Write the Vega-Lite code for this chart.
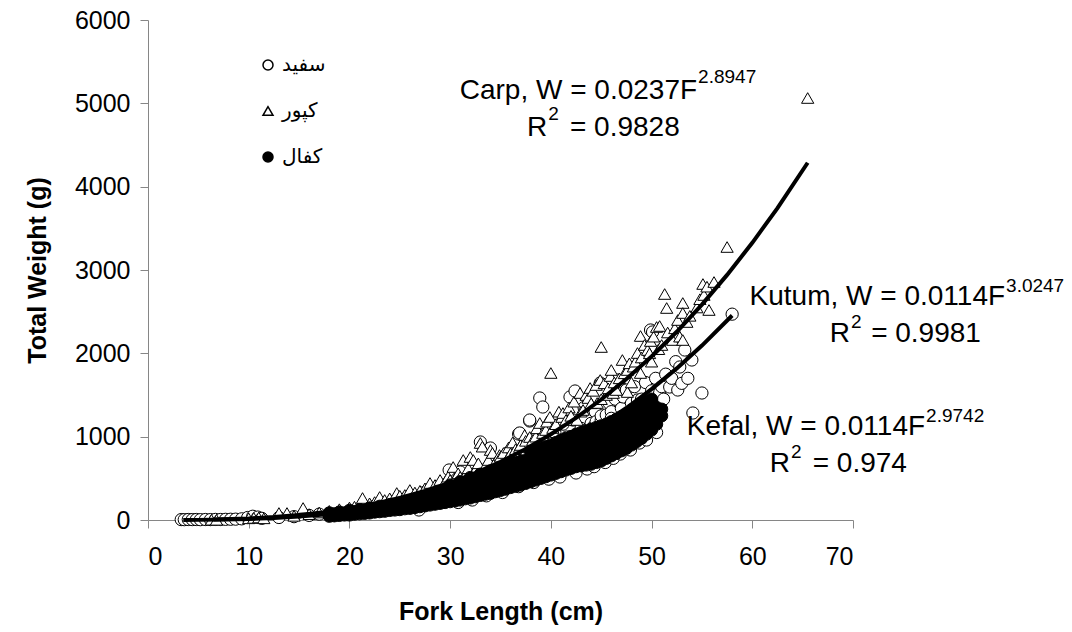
{
  "$schema": "https://vega.github.io/schema/vega-lite/v6.json",
  "width": 705,
  "height": 500,
  "autosize": "none",
  "padding": {"left": 148, "top": 20, "right": 219, "bottom": 112},
  "background": "white",
  "config": {
    "view": {"stroke": null},
    "font": "Liberation Sans",
    "axis": {
      "grid": false,
      "domainColor": "#868686",
      "tickColor": "#868686",
      "tickSize": 8,
      "labelColor": "black",
      "labelFont": "Liberation Sans",
      "labelFontSize": 25,
      "titleFont": "Liberation Sans",
      "titleFontSize": 25,
      "titleFontWeight": "bold",
      "titleColor": "black"
    }
  },
  "datasets": {
    "pts": [
      {"s":"سفید","f":3.3,"w":5},{"s":"سفید","f":3.6,"w":4},{"s":"سفید","f":4.0,"w":6},{"s":"سفید","f":4.4,"w":5},{"s":"سفید","f":4.8,"w":6},{"s":"سفید","f":5.2,"w":4},{"s":"سفید","f":5.7,"w":6},{"s":"سفید","f":6.2,"w":5},{"s":"سفید","f":6.7,"w":7},{"s":"سفید","f":7.2,"w":6},{"s":"سفید","f":7.7,"w":8},{"s":"سفید","f":8.2,"w":9},{"s":"سفید","f":8.7,"w":10},{"s":"سفید","f":9.3,"w":14},{"s":"سفید","f":9.9,"w":30},{"s":"سفید","f":10.4,"w":45},{"s":"سفید","f":10.9,"w":35},{"s":"سفید","f":11.3,"w":20},
      {"s":"سفید","f":13,"w":30},{"s":"سفید","f":14.5,"w":40},{"s":"سفید","f":16,"w":55},{"s":"سفید","f":17,"w":70},{"s":"سفید","f":18,"w":75},{"s":"سفید","f":19,"w":90},{"s":"سفید","f":20,"w":100},{"s":"سفید","f":20.5,"w":95},{"s":"سفید","f":21,"w":110},{"s":"سفید","f":21.4,"w":140},{"s":"سفید","f":21.5,"w":115},{"s":"سفید","f":22,"w":130},{"s":"سفید","f":22.4,"w":160},{"s":"سفید","f":22.5,"w":135},{"s":"سفید","f":23,"w":150},{"s":"سفید","f":23.4,"w":190},{"s":"سفید","f":23.5,"w":160},{"s":"سفید","f":24,"w":170},{"s":"سفید","f":24.4,"w":220},{"s":"سفید","f":24.5,"w":185},{"s":"سفید","f":25,"w":190},{"s":"سفید","f":25.4,"w":250},{"s":"سفید","f":25.5,"w":200},{"s":"سفید","f":26,"w":215},{"s":"سفید","f":26.4,"w":290},{"s":"سفید","f":26.5,"w":230},{"s":"سفید","f":26.9,"w":120},{"s":"سفید","f":27,"w":240},{"s":"سفید","f":27.4,"w":330},{"s":"سفید","f":27.5,"w":250},{"s":"سفید","f":28,"w":270},{"s":"سفید","f":28.4,"w":380},{"s":"سفید","f":28.5,"w":280},{"s":"سفید","f":29,"w":300},{"s":"سفید","f":29.4,"w":420},{"s":"سفید","f":29.5,"w":320},{"s":"سفید","f":29.9,"w":600},
      {"s":"سفید","f":30,"w":330},{"s":"سفید","f":30.3,"w":380},{"s":"سفید","f":30.5,"w":350},{"s":"سفید","f":30.6,"w":450},{"s":"سفید","f":30.8,"w":210},{"s":"سفید","f":31,"w":370},{"s":"سفید","f":31,"w":576},{"s":"سفید","f":31.4,"w":490},{"s":"سفید","f":31.5,"w":400},{"s":"سفید","f":32,"w":380},{"s":"سفید","f":32,"w":430},{"s":"سفید","f":32.2,"w":240},{"s":"سفید","f":32.4,"w":540},{"s":"سفید","f":32.5,"w":450},{"s":"سفید","f":33,"w":420},{"s":"سفید","f":33,"w":936},{"s":"سفید","f":33.2,"w":480},{"s":"سفید","f":33.4,"w":600},{"s":"سفید","f":33.5,"w":470},{"s":"سفید","f":33.6,"w":290},{"s":"سفید","f":34,"w":500},{"s":"سفید","f":34,"w":864},{"s":"سفید","f":34.3,"w":640},{"s":"سفید","f":34.5,"w":520},{"s":"سفید","f":34.5,"w":450},{"s":"سفید","f":35,"w":540},{"s":"سفید","f":35,"w":600},{"s":"سفید","f":35.2,"w":330},{"s":"سفید","f":35.3,"w":700},{"s":"سفید","f":35.5,"w":560},{"s":"سفید","f":35.7,"w":804},{"s":"سفید","f":36,"w":580},{"s":"سفید","f":36,"w":640},{"s":"سفید","f":36.3,"w":760},{"s":"سفید","f":36.5,"w":620},{"s":"سفید","f":36.8,"w":1032},{"s":"سفید","f":36.8,"w":400},{"s":"سفید","f":36.9,"w":1044},{"s":"سفید","f":37,"w":650},{"s":"سفید","f":37,"w":700},{"s":"سفید","f":37.3,"w":840},{"s":"سفید","f":37.5,"w":680},{"s":"سفید","f":37.9,"w":1188},{"s":"سفید","f":37.9,"w":1200},{"s":"سفید","f":38,"w":720},{"s":"سفید","f":38,"w":760},{"s":"سفید","f":38.3,"w":900},{"s":"سفید","f":38.3,"w":450},{"s":"سفید","f":38.5,"w":740},{"s":"سفید","f":38.9,"w":1464},{"s":"سفید","f":38.9,"w":960},{"s":"سفید","f":39.2,"w":1356},{"s":"سفید","f":39,"w":780},{"s":"سفید","f":39,"w":820},{"s":"سفید","f":39.4,"w":1000},{"s":"سفید","f":39.5,"w":800},{"s":"سفید","f":39.8,"w":490},{"s":"سفید","f":40,"w":830},{"s":"سفید","f":40,"w":870},{"s":"سفید","f":40,"w":760},{"s":"سفید","f":40.2,"w":924},{"s":"سفید","f":40.4,"w":1050},{"s":"سفید","f":40.5,"w":880},{"s":"سفید","f":40.9,"w":516},{"s":"سفید","f":41,"w":900},{"s":"سفید","f":41,"w":950},{"s":"سفید","f":41.2,"w":1150},{"s":"سفید","f":41.5,"w":930},{"s":"سفید","f":41.6,"w":996},{"s":"سفید","f":41.9,"w":1476},{"s":"سفید","f":42,"w":960},{"s":"سفید","f":42,"w":1000},{"s":"سفید","f":42.2,"w":1200},{"s":"سفید","f":42.4,"w":1548},{"s":"سفید","f":42.5,"w":564},{"s":"سفید","f":42.5,"w":1020},{"s":"سفید","f":42.9,"w":1044},{"s":"سفید","f":43,"w":1050},{"s":"سفید","f":43,"w":1100},{"s":"سفید","f":43.3,"w":1350},{"s":"سفید","f":43.5,"w":1080},{"s":"سفید","f":43.6,"w":612},{"s":"سفید","f":44,"w":1120},{"s":"سفید","f":44,"w":1160},{"s":"سفید","f":44.2,"w":1116},{"s":"سفید","f":44.3,"w":640},{"s":"سفید","f":44.4,"w":1300},{"s":"سفید","f":44.5,"w":1180},{"s":"سفید","f":44.9,"w":1644},{"s":"سفید","f":45,"w":1200},{"s":"سفید","f":45,"w":1250},{"s":"سفید","f":45,"w":1100},{"s":"سفید","f":45.4,"w":690},{"s":"سفید","f":45.6,"w":1164},{"s":"سفید","f":45.5,"w":1260},{"s":"سفید","f":45.8,"w":1400},{"s":"سفید","f":46,"w":1300},{"s":"سفید","f":46,"w":1220},{"s":"سفید","f":46.2,"w":740},{"s":"سفید","f":46.4,"w":1450},{"s":"سفید","f":46.6,"w":1680},{"s":"سفید","f":46.9,"w":792},{"s":"سفید","f":47,"w":1340},{"s":"سفید","f":47.2,"w":1476},{"s":"سفید","f":47.5,"w":1560},{"s":"سفید","f":47.6,"w":1200},{"s":"سفید","f":47.9,"w":840},{"s":"سفید","f":48,"w":1400},{"s":"سفید","f":48,"w":1320},{"s":"سفید","f":48.3,"w":1600},{"s":"سفید","f":48.6,"w":1440},{"s":"سفید","f":48.8,"w":924},{"s":"سفید","f":48.9,"w":1356},{"s":"سفید","f":49,"w":1450},{"s":"سفید","f":49.2,"w":1404},{"s":"سفید","f":49.4,"w":1650},{"s":"سفید","f":49.5,"w":960},{"s":"سفید","f":49.6,"w":1236},{"s":"سفید","f":49.9,"w":2280},{"s":"سفید","f":49.9,"w":1476},{"s":"سفید","f":50.1,"w":2256},{"s":"سفید","f":50,"w":1550},{"s":"سفید","f":50.4,"w":1700},{"s":"سفید","f":50.5,"w":1050},{"s":"سفید","f":50.8,"w":1524},{"s":"سفید","f":50.8,"w":1344},{"s":"سفید","f":51,"w":1600},{"s":"سفید","f":51.2,"w":1450},{"s":"سفید","f":51.4,"w":1750},{"s":"سفید","f":51.8,"w":1596},{"s":"سفید","f":52,"w":1700},{"s":"سفید","f":52.4,"w":1900},{"s":"سفید","f":52.6,"w":1560},{"s":"سفید","f":52.8,"w":1836},{"s":"سفید","f":53,"w":1640},{"s":"سفید","f":53.3,"w":2040},{"s":"سفید","f":53.6,"w":1700},{"s":"سفید","f":54,"w":1920},{"s":"سفید","f":54.1,"w":1284},{"s":"سفید","f":55,"w":1524},{"s":"سفید","f":58,"w":2470},
      {"s":"کپور","f":6.3,"w":3},{"s":"کپور","f":6.8,"w":2},{"s":"کپور","f":10,"w":20},{"s":"کپور","f":10.5,"w":25},{"s":"کپور","f":11,"w":30},{"s":"کپور","f":11.5,"w":20},{"s":"کپور","f":13,"w":84},{"s":"کپور","f":13.8,"w":84},{"s":"کپور","f":14.5,"w":50},{"s":"کپور","f":15.4,"w":144},{"s":"کپور","f":16,"w":70},{"s":"کپور","f":17,"w":90},{"s":"کپور","f":18,"w":110},{"s":"کپور","f":19,"w":130},{"s":"کپور","f":20,"w":150},{"s":"کپور","f":20.5,"w":160},{"s":"کپور","f":21,"w":180},{"s":"کپور","f":21.3,"w":264},{"s":"کپور","f":22,"w":200},{"s":"کپور","f":22.5,"w":215},{"s":"کپور","f":23,"w":276},{"s":"کپور","f":23.5,"w":240},{"s":"کپور","f":24,"w":260},{"s":"کپور","f":24.7,"w":324},{"s":"کپور","f":25,"w":290},{"s":"کپور","f":25.5,"w":300},{"s":"کپور","f":26,"w":360},{"s":"کپور","f":26.5,"w":330},{"s":"کپور","f":27,"w":350},{"s":"کپور","f":27.5,"w":380},{"s":"کپور","f":28,"w":444},{"s":"کپور","f":28.5,"w":420},{"s":"کپور","f":29,"w":480},{"s":"کپور","f":29.5,"w":460},{"s":"کپور","f":29.8,"w":520},{"s":"کپور","f":30,"w":480},{"s":"کپور","f":30.3,"w":636},{"s":"کپور","f":30.5,"w":500},{"s":"کپور","f":30.8,"w":560},{"s":"کپور","f":31,"w":516},{"s":"کپور","f":31.3,"w":720},{"s":"کپور","f":31.5,"w":540},{"s":"کپور","f":31.8,"w":620},{"s":"کپور","f":32,"w":756},{"s":"کپور","f":32.3,"w":720},{"s":"کپور","f":32.3,"w":564},{"s":"کپور","f":32.5,"w":600},{"s":"کپور","f":32.8,"w":680},{"s":"کپور","f":33,"w":924},{"s":"کپور","f":33.2,"w":880},{"s":"کپور","f":33.5,"w":650},{"s":"کپور","f":33.8,"w":720},{"s":"کپور","f":34,"w":840},{"s":"کپور","f":34.2,"w":804},{"s":"کپور","f":34.5,"w":700},{"s":"کپور","f":34.7,"w":636},{"s":"کپور","f":34.9,"w":780},{"s":"کپور","f":35,"w":760},{"s":"کپور","f":35.3,"w":804},{"s":"کپور","f":35.6,"w":720},{"s":"کپور","f":35.8,"w":870},{"s":"کپور","f":36,"w":800},{"s":"کپور","f":36.2,"w":930},{"s":"کپور","f":36.5,"w":850},{"s":"کپور","f":36.6,"w":756},{"s":"کپور","f":36.9,"w":876},{"s":"کپور","f":37,"w":900},{"s":"کپور","f":37.4,"w":1020},{"s":"کپور","f":37.5,"w":950},{"s":"کپور","f":37.9,"w":996},{"s":"کپور","f":37.9,"w":804},{"s":"کپور","f":38.2,"w":960},{"s":"کپور","f":38.5,"w":1000},{"s":"کپور","f":38.6,"w":1100},{"s":"کپور","f":38.9,"w":1164},{"s":"کپور","f":39.2,"w":1044},{"s":"کپور","f":39.5,"w":1080},{"s":"کپور","f":39.6,"w":1180},{"s":"کپور","f":39.9,"w":1236},{"s":"کپور","f":40,"w":1764},{"s":"کپور","f":40.2,"w":1104},{"s":"کپور","f":40.5,"w":1150},{"s":"کپور","f":40.8,"w":1300},{"s":"کپور","f":41.1,"w":1236},{"s":"کپور","f":41.2,"w":1284},{"s":"کپور","f":41.5,"w":1200},{"s":"کپور","f":41.8,"w":1350},{"s":"کپور","f":42,"w":1250},{"s":"کپور","f":42.3,"w":1420},{"s":"کپور","f":42.6,"w":1200},{"s":"کپور","f":42.9,"w":1524},{"s":"کپور","f":43,"w":1300},{"s":"کپور","f":43.2,"w":1320},{"s":"کپور","f":43.5,"w":1500},{"s":"کپور","f":43.7,"w":1464},{"s":"کپور","f":43.9,"w":1584},{"s":"کپور","f":44,"w":1400},{"s":"کپور","f":44.2,"w":1550},{"s":"کپور","f":44.5,"w":1620},{"s":"کپور","f":44.6,"w":1404},{"s":"کپور","f":44.9,"w":1680},{"s":"کپور","f":45,"w":2076},{"s":"کپور","f":45,"w":1450},{"s":"کپور","f":45.3,"w":1640},{"s":"کپور","f":45.5,"w":1500},{"s":"کپور","f":45.7,"w":1580},{"s":"کپور","f":45.9,"w":1728},{"s":"کپور","f":46,"w":1800},{"s":"کپور","f":46.2,"w":1524},{"s":"کپور","f":46.3,"w":1650},{"s":"کپور","f":46.5,"w":1560},{"s":"کپور","f":46.8,"w":1700},{"s":"کپور","f":47.1,"w":1920},{"s":"کپور","f":47.3,"w":1760},{"s":"کپور","f":47.6,"w":1800},{"s":"کپور","f":47.6,"w":1536},{"s":"کپور","f":47.8,"w":1880},{"s":"کپور","f":48,"w":1650},{"s":"کپور","f":48.2,"w":1840},{"s":"کپور","f":48.4,"w":1900},{"s":"کپور","f":48.6,"w":2004},{"s":"کپور","f":48.9,"w":2208},{"s":"کپور","f":48.9,"w":1764},{"s":"کپور","f":49,"w":1950},{"s":"کپور","f":49.3,"w":2100},{"s":"کپور","f":49.6,"w":2040},{"s":"کپور","f":49.8,"w":2000},{"s":"کپور","f":49.9,"w":2148},{"s":"کپور","f":50,"w":1900},{"s":"کپور","f":50.2,"w":2200},{"s":"کپور","f":50.5,"w":2316},{"s":"کپور","f":50.7,"w":2050},{"s":"کپور","f":50.8,"w":2328},{"s":"کپور","f":51,"w":2100},{"s":"کپور","f":51.3,"w":2712},{"s":"کپور","f":51.5,"w":2544},{"s":"کپور","f":51.6,"w":2250},{"s":"کپور","f":52.1,"w":2160},{"s":"کپور","f":52.3,"w":2300},{"s":"کپور","f":52.6,"w":2400},{"s":"کپور","f":52.8,"w":2200},{"s":"کپور","f":53.1,"w":2604},{"s":"کپور","f":53.1,"w":2484},{"s":"کپور","f":53.1,"w":2160},{"s":"کپور","f":53.5,"w":2376},{"s":"کپور","f":53.8,"w":2450},{"s":"کپور","f":54.5,"w":2550},{"s":"کپور","f":54.8,"w":2650},{"s":"کپور","f":55.1,"w":2832},{"s":"کپور","f":55.2,"w":2700},{"s":"کپور","f":55.5,"w":2800},{"s":"کپور","f":55.7,"w":2520},{"s":"کپور","f":56.2,"w":2856},{"s":"کپور","f":57.5,"w":3276},{"s":"کپور","f":65.5,"w":5064},
      {"s":"کفال","f":18,"w":45},{"s":"کفال","f":18,"w":65},{"s":"کفال","f":18,"w":85},{"s":"کفال","f":18.5,"w":50},{"s":"کفال","f":18.5,"w":75},{"s":"کفال","f":19,"w":55},{"s":"کفال","f":19,"w":75},{"s":"کفال","f":19,"w":95},{"s":"کفال","f":19.5,"w":60},{"s":"کفال","f":19.5,"w":85},{"s":"کفال","f":20,"w":60},{"s":"کفال","f":20,"w":85},{"s":"کفال","f":20,"w":115},{"s":"کفال","f":20.5,"w":70},{"s":"کفال","f":20.5,"w":100},{"s":"کفال","f":21,"w":75},{"s":"کفال","f":21,"w":100},{"s":"کفال","f":21,"w":125},{"s":"کفال","f":21.5,"w":80},{"s":"کفال","f":21.5,"w":110},{"s":"کفال","f":22,"w":85},{"s":"کفال","f":22,"w":115},{"s":"کفال","f":22,"w":145},{"s":"کفال","f":22.5,"w":95},{"s":"کفال","f":22.5,"w":130},{"s":"کفال","f":23,"w":100},{"s":"کفال","f":23,"w":130},{"s":"کفال","f":23,"w":165},{"s":"کفال","f":23.5,"w":105},{"s":"کفال","f":23.5,"w":145},{"s":"کفال","f":24,"w":115},{"s":"کفال","f":24,"w":150},{"s":"کفال","f":24,"w":185},{"s":"کفال","f":24.5,"w":120},{"s":"کفال","f":24.5,"w":165},{"s":"کفال","f":25,"w":125},{"s":"کفال","f":25,"w":165},{"s":"کفال","f":25,"w":205},{"s":"کفال","f":25.5,"w":135},{"s":"کفال","f":25.5,"w":180},{"s":"کفال","f":26,"w":140},{"s":"کفال","f":26,"w":185},{"s":"کفال","f":26,"w":230},{"s":"کفال","f":26.5,"w":150},{"s":"کفال","f":26.5,"w":200},{"s":"کفال","f":26.5,"w":245},{"s":"کفال","f":27,"w":160},{"s":"کفال","f":27,"w":210},{"s":"کفال","f":27,"w":260},{"s":"کفال","f":27.5,"w":170},{"s":"کفال","f":27.5,"w":225},{"s":"کفال","f":27.5,"w":280},{"s":"کفال","f":28,"w":180},{"s":"کفال","f":28,"w":240},{"s":"کفال","f":28,"w":300},{"s":"کفال","f":28.5,"w":190},{"s":"کفال","f":28.5,"w":255},{"s":"کفال","f":28.5,"w":315},{"s":"کفال","f":29,"w":200},{"s":"کفال","f":29,"w":265},{"s":"کفال","f":29,"w":330},{"s":"کفال","f":29.5,"w":210},{"s":"کفال","f":29.5,"w":280},{"s":"کفال","f":29.5,"w":350},
      {"s":"کفال","f":30,"w":220},{"s":"کفال","f":30,"w":290},{"s":"کفال","f":30,"w":360},{"s":"کفال","f":30,"w":420},{"s":"کفال","f":30.5,"w":230},{"s":"کفال","f":30.5,"w":305},{"s":"کفال","f":30.5,"w":380},{"s":"کفال","f":31,"w":240},{"s":"کفال","f":31,"w":320},{"s":"کفال","f":31,"w":400},{"s":"کفال","f":31,"w":460},{"s":"کفال","f":31.5,"w":255},{"s":"کفال","f":31.5,"w":340},{"s":"کفال","f":31.5,"w":420},{"s":"کفال","f":32,"w":265},{"s":"کفال","f":32,"w":350},{"s":"کفال","f":32,"w":440},{"s":"کفال","f":32,"w":510},{"s":"کفال","f":32.5,"w":280},{"s":"کفال","f":32.5,"w":370},{"s":"کفال","f":32.5,"w":460},{"s":"کفال","f":33,"w":295},{"s":"کفال","f":33,"w":385},{"s":"کفال","f":33,"w":475},{"s":"کفال","f":33,"w":550},{"s":"کفال","f":33.5,"w":310},{"s":"کفال","f":33.5,"w":400},{"s":"کفال","f":33.5,"w":495},{"s":"کفال","f":34,"w":320},{"s":"کفال","f":34,"w":410},{"s":"کفال","f":34,"w":500},{"s":"کفال","f":34,"w":590},{"s":"کفال","f":34.5,"w":340},{"s":"کفال","f":34.5,"w":430},{"s":"کفال","f":34.5,"w":520},{"s":"کفال","f":34.5,"w":600},{"s":"کفال","f":35,"w":355},{"s":"کفال","f":35,"w":445},{"s":"کفال","f":35,"w":535},{"s":"کفال","f":35,"w":630},{"s":"کفال","f":35.5,"w":370},{"s":"کفال","f":35.5,"w":460},{"s":"کفال","f":35.5,"w":550},{"s":"کفال","f":35.5,"w":650},{"s":"کفال","f":36,"w":390},{"s":"کفال","f":36,"w":480},{"s":"کفال","f":36,"w":570},{"s":"کفال","f":36,"w":670},{"s":"کفال","f":36.5,"w":405},{"s":"کفال","f":36.5,"w":495},{"s":"کفال","f":36.5,"w":585},{"s":"کفال","f":36.5,"w":690},{"s":"کفال","f":37,"w":420},{"s":"کفال","f":37,"w":510},{"s":"کفال","f":37,"w":600},{"s":"کفال","f":37,"w":700},{"s":"کفال","f":37.5,"w":440},{"s":"کفال","f":37.5,"w":530},{"s":"کفال","f":37.5,"w":620},{"s":"کفال","f":37.5,"w":720},{"s":"کفال","f":38,"w":460},{"s":"کفال","f":38,"w":550},{"s":"کفال","f":38,"w":640},{"s":"کفال","f":38,"w":740},{"s":"کفال","f":38,"w":820},{"s":"کفال","f":38.5,"w":480},{"s":"کفال","f":38.5,"w":570},{"s":"کفال","f":38.5,"w":660},{"s":"کفال","f":38.5,"w":760},{"s":"کفال","f":38.5,"w":840},{"s":"کفال","f":39,"w":500},{"s":"کفال","f":39,"w":590},{"s":"کفال","f":39,"w":680},{"s":"کفال","f":39,"w":780},{"s":"کفال","f":39,"w":860},{"s":"کفال","f":39.5,"w":520},{"s":"کفال","f":39.5,"w":610},{"s":"کفال","f":39.5,"w":700},{"s":"کفال","f":39.5,"w":800},{"s":"کفال","f":39.5,"w":880},{"s":"کفال","f":40,"w":540},{"s":"کفال","f":40,"w":630},{"s":"کفال","f":40,"w":720},{"s":"کفال","f":40,"w":820},{"s":"کفال","f":40,"w":900},{"s":"کفال","f":40.5,"w":560},{"s":"کفال","f":40.5,"w":650},{"s":"کفال","f":40.5,"w":740},{"s":"کفال","f":40.5,"w":840},{"s":"کفال","f":40.5,"w":930},{"s":"کفال","f":41,"w":580},{"s":"کفال","f":41,"w":670},{"s":"کفال","f":41,"w":760},{"s":"کفال","f":41,"w":860},{"s":"کفال","f":41,"w":960},{"s":"کفال","f":41.5,"w":600},{"s":"کفال","f":41.5,"w":690},{"s":"کفال","f":41.5,"w":780},{"s":"کفال","f":41.5,"w":880},{"s":"کفال","f":41.5,"w":980},{"s":"کفال","f":42,"w":620},{"s":"کفال","f":42,"w":710},{"s":"کفال","f":42,"w":800},{"s":"کفال","f":42,"w":900},{"s":"کفال","f":42,"w":1000},{"s":"کفال","f":42.5,"w":640},{"s":"کفال","f":42.5,"w":730},{"s":"کفال","f":42.5,"w":820},{"s":"کفال","f":42.5,"w":920},{"s":"کفال","f":42.5,"w":1030},{"s":"کفال","f":43,"w":650},{"s":"کفال","f":43,"w":740},{"s":"کفال","f":43,"w":840},{"s":"کفال","f":43,"w":940},{"s":"کفال","f":43,"w":1050},{"s":"کفال","f":43.5,"w":660},{"s":"کفال","f":43.5,"w":760},{"s":"کفال","f":43.5,"w":860},{"s":"کفال","f":43.5,"w":960},{"s":"کفال","f":43.5,"w":1070},{"s":"کفال","f":44,"w":670},{"s":"کفال","f":44,"w":780},{"s":"کفال","f":44,"w":880},{"s":"کفال","f":44,"w":980},{"s":"کفال","f":44,"w":1090},{"s":"کفال","f":44.5,"w":690},{"s":"کفال","f":44.5,"w":800},{"s":"کفال","f":44.5,"w":900},{"s":"کفال","f":44.5,"w":1000},{"s":"کفال","f":44.5,"w":1110},{"s":"کفال","f":45,"w":710},{"s":"کفال","f":45,"w":820},{"s":"کفال","f":45,"w":920},{"s":"کفال","f":45,"w":1020},{"s":"کفال","f":45,"w":1130},{"s":"کفال","f":45.5,"w":740},{"s":"کفال","f":45.5,"w":840},{"s":"کفال","f":45.5,"w":940},{"s":"کفال","f":45.5,"w":1040},{"s":"کفال","f":45.5,"w":1150},{"s":"کفال","f":46,"w":770},{"s":"کفال","f":46,"w":870},{"s":"کفال","f":46,"w":970},{"s":"کفال","f":46,"w":1070},{"s":"کفال","f":46,"w":1180},{"s":"کفال","f":46.5,"w":800},{"s":"کفال","f":46.5,"w":900},{"s":"کفال","f":46.5,"w":1000},{"s":"کفال","f":46.5,"w":1100},{"s":"کفال","f":46.5,"w":1210},{"s":"کفال","f":47,"w":830},{"s":"کفال","f":47,"w":930},{"s":"کفال","f":47,"w":1030},{"s":"کفال","f":47,"w":1130},{"s":"کفال","f":47,"w":1240},{"s":"کفال","f":47.5,"w":860},{"s":"کفال","f":47.5,"w":960},{"s":"کفال","f":47.5,"w":1060},{"s":"کفال","f":47.5,"w":1160},{"s":"کفال","f":47.5,"w":1270},{"s":"کفال","f":48,"w":900},{"s":"کفال","f":48,"w":1000},{"s":"کفال","f":48,"w":1100},{"s":"کفال","f":48,"w":1200},{"s":"کفال","f":48,"w":1300},{"s":"کفال","f":48.5,"w":940},{"s":"کفال","f":48.5,"w":1040},{"s":"کفال","f":48.5,"w":1140},{"s":"کفال","f":48.5,"w":1240},{"s":"کفال","f":48.5,"w":1340},{"s":"کفال","f":49,"w":980},{"s":"کفال","f":49,"w":1080},{"s":"کفال","f":49,"w":1180},{"s":"کفال","f":49,"w":1280},{"s":"کفال","f":49,"w":1380},{"s":"کفال","f":49.5,"w":1030},{"s":"کفال","f":49.5,"w":1130},{"s":"کفال","f":49.5,"w":1230},{"s":"کفال","f":49.5,"w":1330},{"s":"کفال","f":49.5,"w":1420},{"s":"کفال","f":50,"w":1080},{"s":"کفال","f":50,"w":1180},{"s":"کفال","f":50,"w":1280},{"s":"کفال","f":50,"w":1380},{"s":"کفال","f":50,"w":1450},{"s":"کفال","f":50.5,"w":1150},{"s":"کفال","f":50.5,"w":1250},{"s":"کفال","f":50.5,"w":1350},{"s":"کفال","f":51,"w":1250},{"s":"کفال","f":51,"w":1330}
    ],
    "fit": [
      {"s":"kutum","f":3.5,"w":0.5},{"s":"kutum","f":5,"w":1.5},{"s":"kutum","f":7.5,"w":5.1},{"s":"kutum","f":10,"w":12.1},{"s":"kutum","f":12.5,"w":23.7},{"s":"kutum","f":15,"w":41.1},{"s":"kutum","f":17.5,"w":65.6},{"s":"kutum","f":20,"w":98.2},{"s":"kutum","f":22.5,"w":140.2},{"s":"kutum","f":25,"w":192.9},{"s":"kutum","f":27.5,"w":257.2},{"s":"kutum","f":30,"w":335},{"s":"kutum","f":32.5,"w":426},{"s":"kutum","f":35,"w":534},{"s":"kutum","f":37.5,"w":658},{"s":"kutum","f":40,"w":799},{"s":"kutum","f":42.5,"w":960},{"s":"kutum","f":45,"w":1141},{"s":"kutum","f":47.5,"w":1344},{"s":"kutum","f":50,"w":1570},{"s":"kutum","f":52.5,"w":1819},{"s":"kutum","f":55,"w":2093},{"s":"kutum","f":58,"w":2454},
      {"s":"carp","f":6.5,"w":5.3},{"s":"carp","f":10,"w":18.6},{"s":"carp","f":12.5,"w":35.5},{"s":"carp","f":15,"w":60.2},{"s":"carp","f":17.5,"w":94},{"s":"carp","f":20,"w":138},{"s":"carp","f":22.5,"w":194.6},{"s":"carp","f":25,"w":264},{"s":"carp","f":27.5,"w":348},{"s":"carp","f":30,"w":447},{"s":"carp","f":32.5,"w":564},{"s":"carp","f":35,"w":699},{"s":"carp","f":37.5,"w":853},{"s":"carp","f":40,"w":1029},{"s":"carp","f":42.5,"w":1226},{"s":"carp","f":45,"w":1446},{"s":"carp","f":47.5,"w":1692},{"s":"carp","f":50,"w":1962},{"s":"carp","f":52.5,"w":2259},{"s":"carp","f":55,"w":2585},{"s":"carp","f":57.5,"w":2941},{"s":"carp","f":60,"w":3326},{"s":"carp","f":62.5,"w":3742},{"s":"carp","f":65.5,"w":4287},
      {"s":"kefal","f":18,"w":61.7},{"s":"kefal","f":20,"w":84.4},{"s":"kefal","f":22.5,"w":119.8},{"s":"kefal","f":25,"w":164},{"s":"kefal","f":27.5,"w":217.7},{"s":"kefal","f":30,"w":282},{"s":"kefal","f":32.5,"w":357.5},{"s":"kefal","f":35,"w":446},{"s":"kefal","f":37.5,"w":547},{"s":"kefal","f":40,"w":663},{"s":"kefal","f":42.5,"w":794},{"s":"kefal","f":45,"w":942},{"s":"kefal","f":47.5,"w":1106},{"s":"kefal","f":50,"w":1288},{"s":"kefal","f":50.5,"w":1327}
    ],
    "notes": [
      {"k":"endR","f":54.52,"w":5052,"t":"Carp, W = 0.0237F"},
      {"k":"sup","f":54.52,"w":5244,"t":"2.8947"},
      {"k":"endR","f":39.65,"w":4608,"t":"R"},
      {"k":"sup","f":39.65,"w":4800,"t":"2"},
      {"k":"startL","f":41.9,"w":4608,"t":"= 0.9828"},
      {"k":"endR","f":85.1,"w":2580,"t":"Kutum, W = 0.0114F"},
      {"k":"sup","f":85.1,"w":2736,"t":"3.0247"},
      {"k":"endR","f":69.71,"w":2136,"t":"R"},
      {"k":"sup","f":69.71,"w":2304,"t":"2"},
      {"k":"startL","f":71.8,"w":2136,"t":"= 0.9981"},
      {"k":"endR","f":77.16,"w":1020,"t":"Kefal, W = 0.0114F"},
      {"k":"sup","f":77.16,"w":1176,"t":"2.9742"},
      {"k":"endR","f":63.75,"w":576,"t":"R"},
      {"k":"sup","f":63.75,"w":744,"t":"2"},
      {"k":"startL","f":66.0,"w":576,"t":"= 0.974"}
    ]
  },
  "encoding": {
    "x": {"field": "f", "type": "quantitative", "scale": {"domain": [0, 70], "nice": false}, "axis": {"title": "Fork Length (cm)", "values": [0,10,20,30,40,50,60,70], "labelPadding": 16, "titlePadding": 30}},
    "y": {"field": "w", "type": "quantitative", "scale": {"domain": [0, 6000], "nice": false}, "axis": {"title": "Total Weight (g)", "format": "d", "values": [0,1000,2000,3000,4000,5000,6000], "labelPadding": 10, "titlePadding": 24}}
  },
  "layer": [
    {
      "data": {"name": "pts"},
      "mark": {"type": "point", "filled": true, "opacity": 1, "stroke": "black", "strokeWidth": 1, "size": 150},
      "encoding": {
        "shape": {"field": "s", "type": "nominal", "scale": {"domain": ["سفید","کپور","کفال"], "range": ["circle","triangle-up","circle"]},
          "legend": {"title": null, "orient": "none", "legendX": 110, "legendY": 35, "labelFont": "DejaVu Sans", "labelFontSize": 20, "labelColor": "black", "labelOffset": 4, "rowPadding": 26, "symbolSize": 100, "padding": 0,
            "encode": {"symbols": {"update": {"stroke": {"value": "black"}, "strokeWidth": {"value": 1}, "opacity": {"value": 1}}}}}},
        "fill": {"field": "s", "type": "nominal", "scale": {"domain": ["سفید","کپور","کفال"], "range": ["white","white","black"]},
          "legend": {"title": null, "orient": "none", "legendX": 110, "legendY": 35, "labelFont": "DejaVu Sans", "labelFontSize": 20, "labelColor": "black", "labelOffset": 4, "rowPadding": 26, "symbolSize": 100, "padding": 0,
            "encode": {"symbols": {"update": {"stroke": {"value": "black"}, "strokeWidth": {"value": 1}, "opacity": {"value": 1}}}}}}
      }
    },
    {
      "data": {"name": "fit"},
      "mark": {"type": "line", "color": "black", "strokeWidth": 4},
      "encoding": {"detail": {"field": "s", "type": "nominal"}}
    },
    {
      "data": {"name": "notes"},
      "transform": [{"filter": "datum.k === 'endR'"}],
      "mark": {"type": "text", "align": "right", "baseline": "alphabetic", "fontSize": 28, "color": "black", "font": "Liberation Sans"},
      "encoding": {"text": {"field": "t"}}
    },
    {
      "data": {"name": "notes"},
      "transform": [{"filter": "datum.k === 'startL'"}],
      "mark": {"type": "text", "align": "left", "baseline": "alphabetic", "fontSize": 28, "color": "black", "font": "Liberation Sans"},
      "encoding": {"text": {"field": "t"}}
    },
    {
      "data": {"name": "notes"},
      "transform": [{"filter": "datum.k === 'sup'"}],
      "mark": {"type": "text", "align": "left", "baseline": "alphabetic", "dx": 1, "fontSize": 19, "color": "black", "font": "Liberation Sans"},
      "encoding": {"text": {"field": "t"}}
    }
  ]
}
